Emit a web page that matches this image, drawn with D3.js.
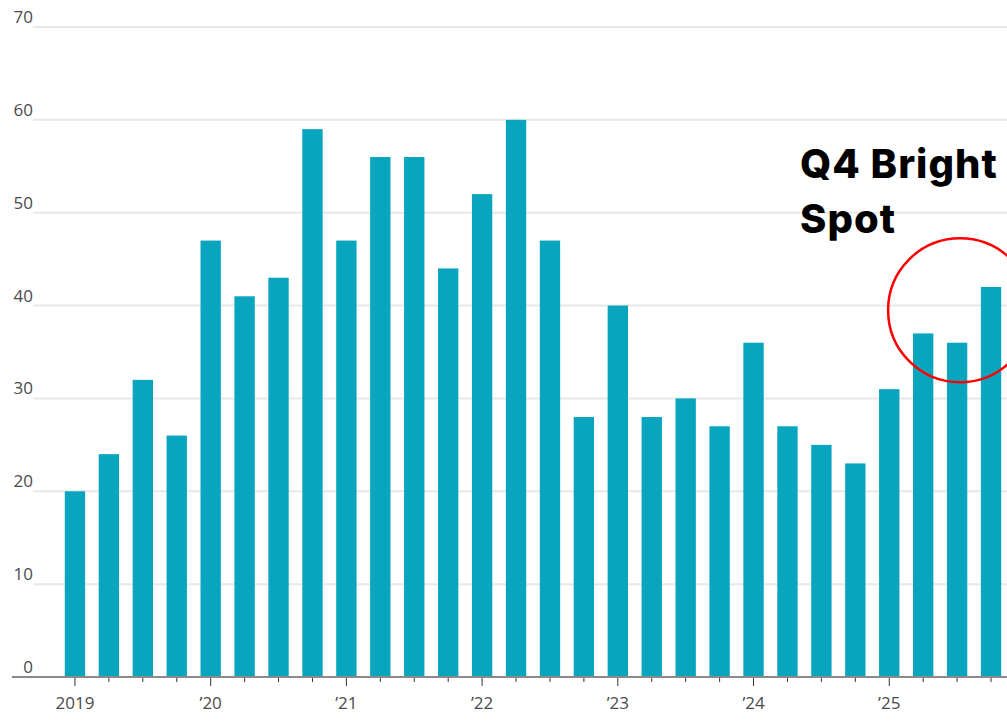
<!DOCTYPE html>
<html>
<head>
<meta charset="utf-8">
<script src="https://cdn.jsdelivr.net/npm/d3@7"></script>
<style>
  body { margin: 0; background: #fff; }
  svg { display: block; }
  .tick-label { font-family: "Open Sans", sans-serif; font-size: 17px; fill: #4a4a4a; }
</style>
</head>
<body>
<svg id="chart" width="1007" height="721"></svg>
<script>
// quarterly values, 2019 Q1 .. 2025 Q4
const QUARTERS = d3.range(28).map(i => `${2019 + Math.floor(i / 4)}Q${i % 4 + 1}`);
const VALUES = [20, 24, 32, 26, 47, 41, 43, 59, 47, 56, 56, 44, 52, 60,
                47, 28, 40, 28, 30, 27, 36, 27, 25, 23, 31, 37, 36, 42];
const Y_TICKS = [0, 10, 20, 30, 40, 50, 60, 70];
const YEAR_LABELS = ["2019", "\u201920", "\u201921", "\u201922", "\u201923", "\u201924", "\u201925"];
const NOTE = ["Q4 Bright", "Spot"];

const svg = d3.select("#chart");

let x = d3.scaleBand()
    .domain(QUARTERS)
    .range([58, 1008])
    .paddingInner(0.4)
    .paddingOuter(0.2);

let y = d3.scaleLinear()
    .domain([0, 70])
    .range([677, 27]);

// gridlines + y labels
let grid = svg.append("g");
grid.selectAll("line")
    .data(Y_TICKS.filter(d => d > 0))
    .enter()
    .append("line")
    .attr("x1", 33)
    .attr("x2", 1007)
    .attr("y1", d => y(d))
    .attr("y2", d => y(d))
    .attr("stroke", "#e8e8e8")
    .attr("stroke-width", 2);
grid.selectAll("text")
    .data(Y_TICKS)
    .enter()
    .append("text")
    .attr("class", "tick-label")
    .attr("x", 33)
    .attr("text-anchor", "end")
    .attr("y", d => y(d) - 4)
    .text(d => d);

// bars
svg.append("g")
    .selectAll("rect")
    .data(VALUES)
    .enter()
    .append("rect")
    .attr("x", (d, i) => x(QUARTERS[i]))
    .attr("y", d => y(d))
    .attr("width", x.bandwidth())
    .attr("height", d => y(0) - y(d))
    .attr("fill", "#09a5bf");

// x axis
let xAxis = d3.axisBottom(x)
    .tickSize(4)
    .tickFormat(d => d.endsWith("Q1") ? YEAR_LABELS[+d.slice(0, 4) - 2019] : "");
let gx = svg.append("g")
    .attr("transform", `translate(0, ${y(0)})`)
    .call(xAxis);
gx.select(".domain").remove();
gx.selectAll(".tick line").attr("stroke", "#333")
    .attr("y2", d => d.endsWith("Q1") ? 9 : 5);
gx.selectAll(".tick text")
    .attr("class", "tick-label")
    .attr("y", 20)
    .attr("dy", "0.71em");
svg.append("line")
    .attr("x1", 12)
    .attr("x2", 1007)
    .attr("y1", y(0))
    .attr("y2", y(0))
    .attr("stroke", "#8a8a8a")
    .attr("stroke-width", 2);

// annotation
svg.append("text")
    .attr("x", 800)
    .attr("y", 178)
    .attr("font-family", "Inter, 'Open Sans', sans-serif")
    .attr("font-weight", 800)
    .attr("font-size", 40)
    .attr("letter-spacing", "1px")
    .attr("fill", "#000")
    .selectAll("tspan")
    .data(NOTE)
    .enter()
    .append("tspan")
    .attr("x", 800)
    .attr("dy", (d, i) => i === 0 ? 0 : 55)
    .text(d => d);

svg.append("circle")
    .attr("cx", x(QUARTERS[26]) + x.bandwidth() / 2 + 3)
    .attr("cy", y(39.5))
    .attr("r", 72)
    .attr("fill", "none")
    .attr("stroke", "#ff0000")
    .attr("stroke-width", 2.5);
</script>
</body>
</html>
